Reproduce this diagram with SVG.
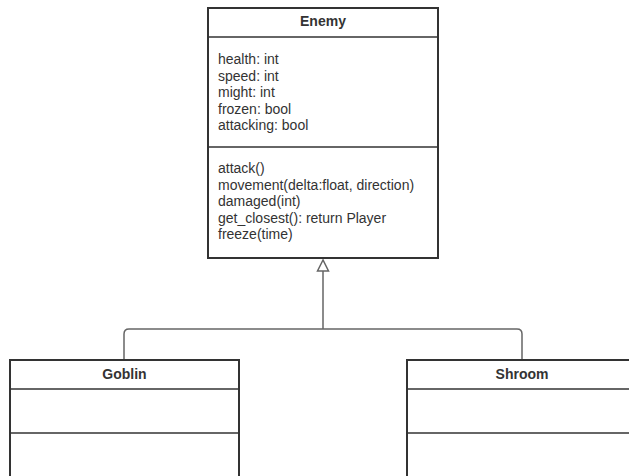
<svg xmlns="http://www.w3.org/2000/svg" width="629" height="476" viewBox="0 0 629 476">
<style>
.box{fill:#fff;stroke:#333;stroke-width:2}
.div{stroke:#333;stroke-width:1.5}
.t{font-family:"Liberation Sans",Arial,sans-serif;font-size:14px;fill:#333}
.h{font-family:"Liberation Sans",Arial,sans-serif;font-size:14px;font-weight:bold;fill:#333;text-anchor:middle}
.c{fill:none;stroke:#666;stroke-width:1.5}
</style>
<rect width="629" height="476" fill="#fff"/>
<g id="connectors">
<path class="c" d="M323 271 V329 M124 360 V334 Q124 329 129 329 H517 Q522 329 522 334 V360"/>
<path d="M323 260 L317.5 271 H328.5 Z" fill="#fff" stroke="#666" stroke-width="1.5"/>
</g>
<g id="enemy">
<rect class="box" x="208" y="8" width="230" height="250"/>
<line class="div" x1="208" y1="37" x2="438" y2="37"/>
<line class="div" x1="208" y1="147" x2="438" y2="147"/>
<text class="h" x="323" y="26">Enemy</text>
<text class="t" x="218" y="64">health: int</text>
<text class="t" x="218" y="80.5">speed: int</text>
<text class="t" x="218" y="97">might: int</text>
<text class="t" x="218" y="113.5">frozen: bool</text>
<text class="t" x="218" y="130">attacking: bool</text>
<text class="t" x="218" y="173">attack()</text>
<text class="t" x="218" y="189.5">movement(delta:float, direction)</text>
<text class="t" x="218" y="206">damaged(int)</text>
<text class="t" x="218" y="222.5">get_closest(): return Player</text>
<text class="t" x="218" y="239">freeze(time)</text>
</g>
<g id="goblin">
<rect class="box" x="10" y="360" width="229" height="130"/>
<line class="div" x1="10" y1="389" x2="239" y2="389"/>
<line class="div" x1="10" y1="433" x2="239" y2="433"/>
<text class="h" x="124.5" y="379">Goblin</text>
</g>
<g id="shroom">
<rect class="box" x="407" y="360" width="230" height="130"/>
<line class="div" x1="407" y1="389" x2="637" y2="389"/>
<line class="div" x1="407" y1="433" x2="637" y2="433"/>
<text class="h" x="522" y="379">Shroom</text>
</g>
</svg>
